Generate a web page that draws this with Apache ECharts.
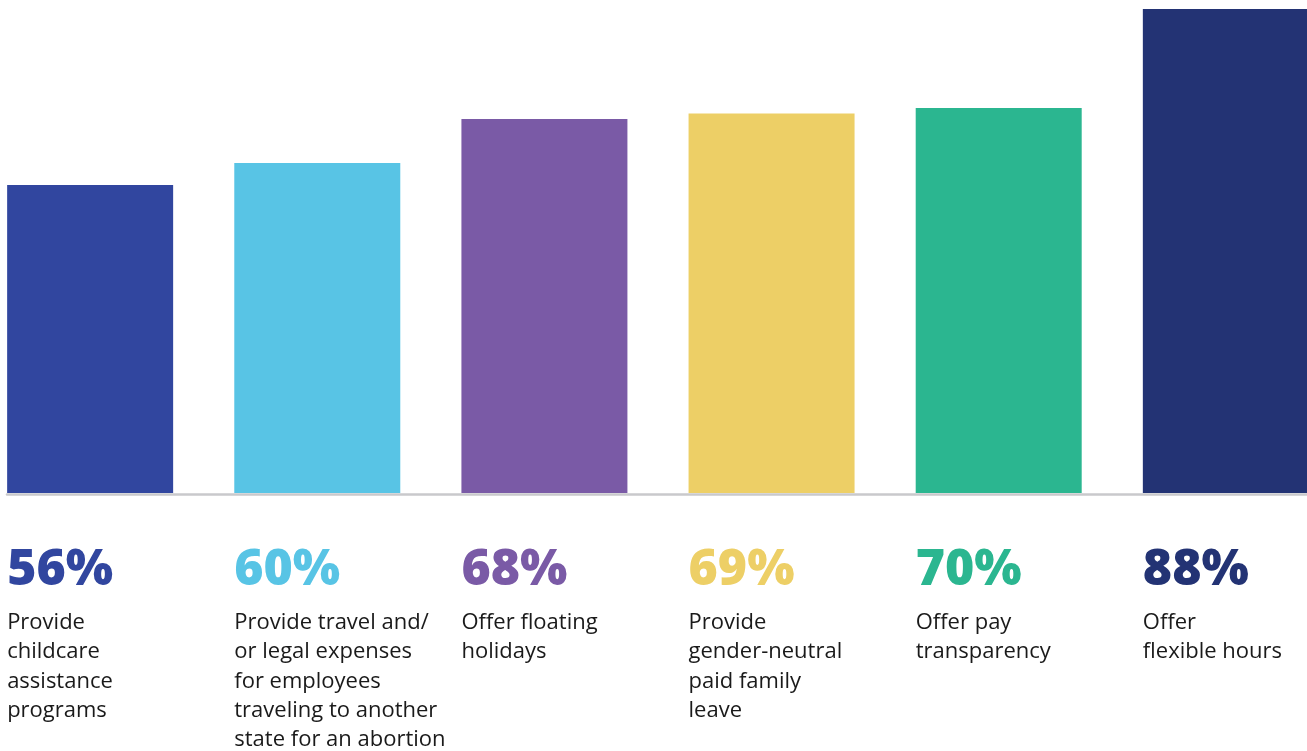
<!DOCTYPE html>
<html>
<head>
<meta charset="utf-8">
<title>Workplace benefits offered</title>
<script src="https://cdn.jsdelivr.net/npm/echarts@6/dist/echarts.min.js"></script>
<style>
  html, body { margin: 0; padding: 0; background: #ffffff; }
  #chart { width: 1307px; height: 751px; }
</style>
</head>
<body>
<div id="chart"></div>
<script>
// Benefits and the share of employers offering each one
const categories = [
  'Provide\nchildcare\nassistance\nprograms',
  'Provide travel and/\nor legal expenses\nfor employees\ntraveling to another\nstate for an abortion',
  'Offer floating\nholidays',
  'Provide\ngender-neutral\npaid family\nleave',
  'Offer pay\ntransparency',
  'Offer\nflexible hours'
];
const values = [56, 60, 68, 69, 70, 88];
const barColors = ['#31469f', '#58c4e5', '#7a5aa6', '#edcf66', '#2bb690', '#233374'];

const FONT = '"Open Sans", "Noto Sans", sans-serif';

// one rich style per bar so each percentage takes its bar's colour
const rich = {
  desc: { fontFamily: FONT, fontSize: 22, fontWeight: 500, color: '#1a1a1a', lineHeight: 29.3 }
};
barColors.forEach((c, i) => {
  rich['p' + i] = { fontFamily: FONT, fontSize: 50, fontWeight: 800, color: c, lineHeight: 74 };
});

const chart = echarts.init(document.getElementById('chart'), null, { renderer: 'canvas' });
chart.setOption({
  animation: false,
  grid: [
    // bars: columns sit on the category ticks, first and last near the page edges
    { left: 90.14, right: 81.16, top: 9, bottom: 258 },
    // baseline rule under the bars
    { left: 7, right: 0, top: 9, bottom: 257 }
  ],
  xAxis: [
    {
      type: 'category', gridIndex: 0, data: categories, boundaryGap: false,
      axisLine: { show: false }, axisTick: { show: false }, axisLabel: { show: false }
    },
    {
      type: 'value', gridIndex: 1, min: 0, max: 1,
      axisLine: { show: true, lineStyle: { color: '#c9c9cc', width: 2.5 } },
      axisTick: { show: false }, axisLabel: { show: false }, splitLine: { show: false }
    }
  ],
  yAxis: [
    { type: 'value', gridIndex: 0, min: 0, max: 88, show: false, splitLine: { show: false } },
    { type: 'value', gridIndex: 1, min: 0, max: 1, show: false, splitLine: { show: false } }
  ],
  series: [{
    type: 'bar',
    xAxisIndex: 0, yAxisIndex: 0,
    barWidth: 166,
    clip: false,
    z: 3,
    data: values.map((v, i) => ({ value: v, itemStyle: { color: barColors[i] } })),
    label: {
      show: true,
      position: 'bottom',
      distance: 5,
      align: 'left',
      verticalAlign: 'top',
      offset: [-83, 36],
      rich: rich,
      formatter: (p) => {
        const lines = categories[p.dataIndex].split('\n').map(t => '{desc|' + t + '}');
        return '{p' + p.dataIndex + '|' + p.value + '%}\n' + lines.join('\n');
      }
    }
  }]
});
</script>
</body>
</html>
